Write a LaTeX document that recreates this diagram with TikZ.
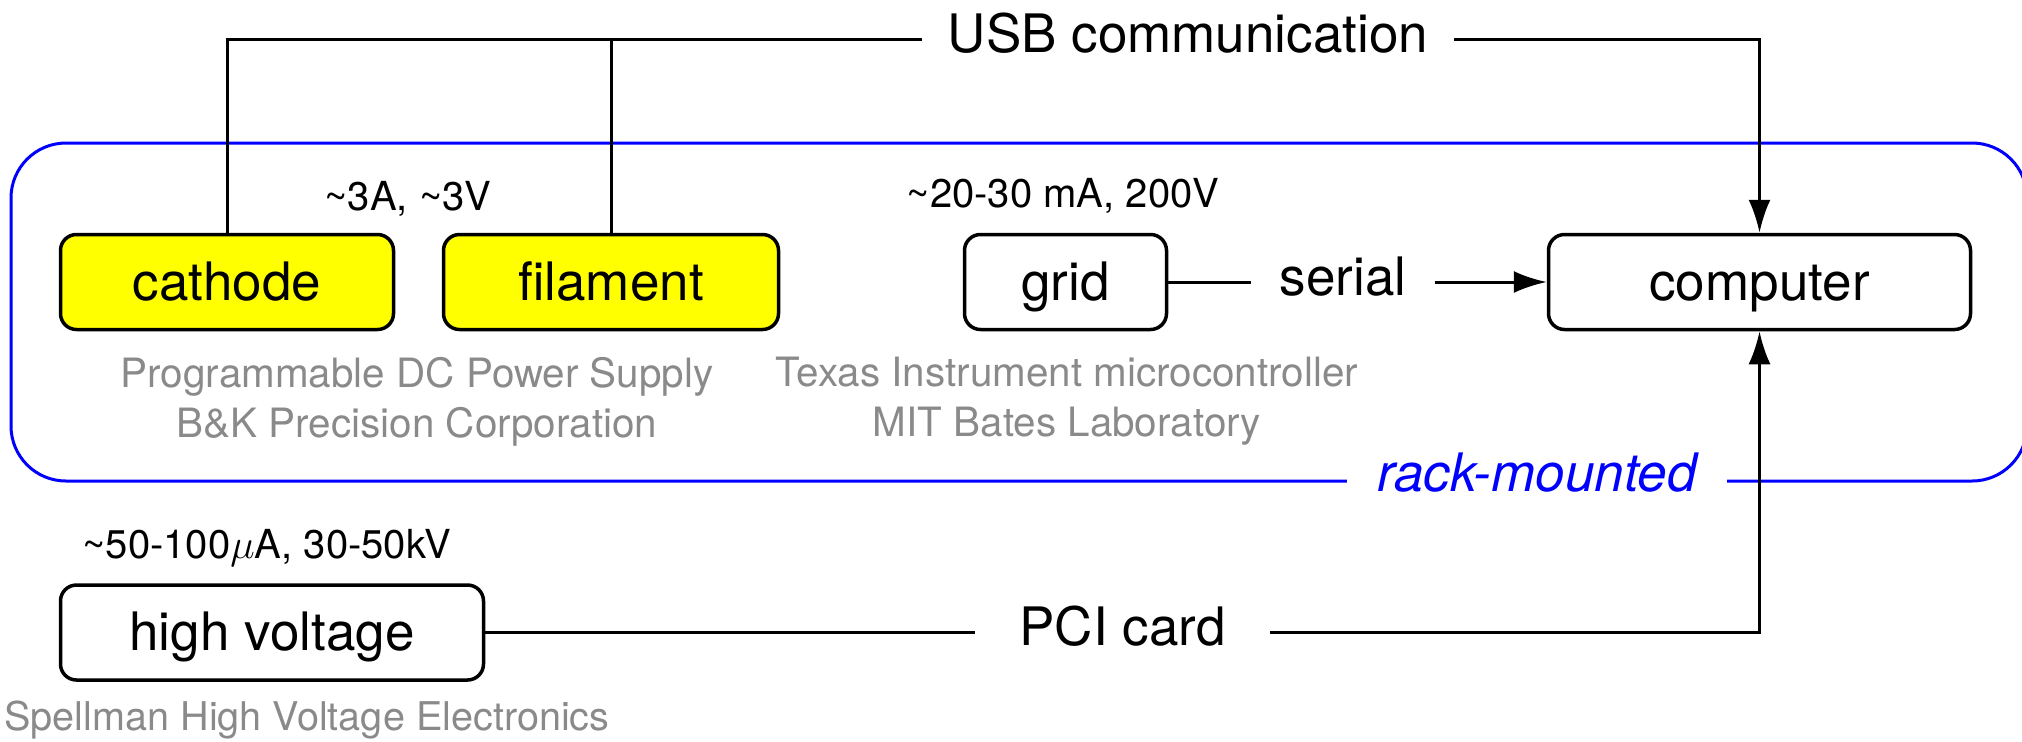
\documentclass[tikz,border=0pt]{standalone}
\usepackage{fontspec}
\setmainfont{TeX Gyre Heros}
\usetikzlibrary{arrows.meta}
\definecolor{subgray}{HTML}{8A8A8A}
\definecolor{rackblue}{HTML}{0000FF}
\definecolor{boxyellow}{HTML}{FFFF00}
\begin{document}
\begin{tikzpicture}[x=0.5pt,y=-0.5pt,
  bigfont/.style={font=\fontsize{26.5}{30}\selectfont},
  smallfont/.style={font=\fontsize{20}{25}\selectfont},
  box/.style={draw, line width=1.75pt, rounded corners=8pt, minimum height=47.5pt,
    inner sep=0pt, bigfont, text height=24pt, text depth=6pt},
  hot/.style={box, fill=boxyellow},
  conlabel/.style={bigfont, inner ysep=0pt, text height=19pt, text depth=6pt},
  conn/.style={line width=1.5pt},
  arr/.style={conn, -{Latex[length=16.5pt,width=11pt]}},
  note/.style={smallfont, inner sep=0pt, anchor=base},
  maker/.style={font=\fontsize{20.2}{25}\selectfont, text=subgray, inner sep=0pt, align=center},
]
\useasboundingbox (0,0) rectangle (2022,741);

% rack frame
\draw[rackblue, line width=1.5pt, rounded corners=27.5pt] (11,143) rectangle (2027,481);
\node[bigfont, text=rackblue, fill=white, inner xsep=15pt, inner ysep=2pt, anchor=base]
  (rack) at (1537,491) {\itshape rack-mounted};

% devices
\node[hot, minimum width=166.5pt] (cathode) at (227,282) {cathode};
\node[hot, minimum width=167.5pt] (filament) at (611,282) {filament};
\node[box, minimum width=101pt] (grid) at (1065.5,282) {grid};
\node[box, minimum width=211pt] (computer) at (1759.5,282) {computer};
\node[box, minimum width=211.5pt] (hv) at (272,632.5) {high voltage};

% ratings
\node[note] (rcath) at (408,210) {\textasciitilde3A, \textasciitilde3V};
\node[note] (rgrid) at (1063,207) {\textasciitilde20-30 mA, 200V};
\node[note] (rhv) at (267,558) {\textasciitilde50-100$\mu$A, 30-50kV};

% makers
\node[maker, anchor=north] (mbk) at (417,357) {Programmable DC Power Supply\\B\&K Precision Corporation};
\node[maker, anchor=north] (mti) at (1067,357) {Texas Instrument microcontroller\\MIT Bates Laboratory};
\node[maker, font=\fontsize{19.8}{25}\selectfont, anchor=base west] (msp) at (4,730) {Spellman High Voltage Electronics};

% connector labels
\node[conlabel, inner xsep=13pt] (usb) at (1188,39) {USB communication};
\node[conlabel, inner xsep=14pt] (serial) at (1343,282) {serial};
\node[conlabel, inner xsep=22pt] (pci) at (1122.5,632.5) {PCI card};

% connectors
\draw[conn] (cathode.north) |- (usb.west);
\draw[conn] (filament.north) -- (filament.north |- usb.west);
\draw[arr] (usb.east) -| (computer.north);
\draw[conn] (grid.east) -- (serial.west);
\draw[arr] (serial.east) -- (computer.west);
\draw[conn] (hv.east) -- (pci.west);
\draw[arr] (pci.east) -| (computer.south);
\end{tikzpicture}
\end{document}
